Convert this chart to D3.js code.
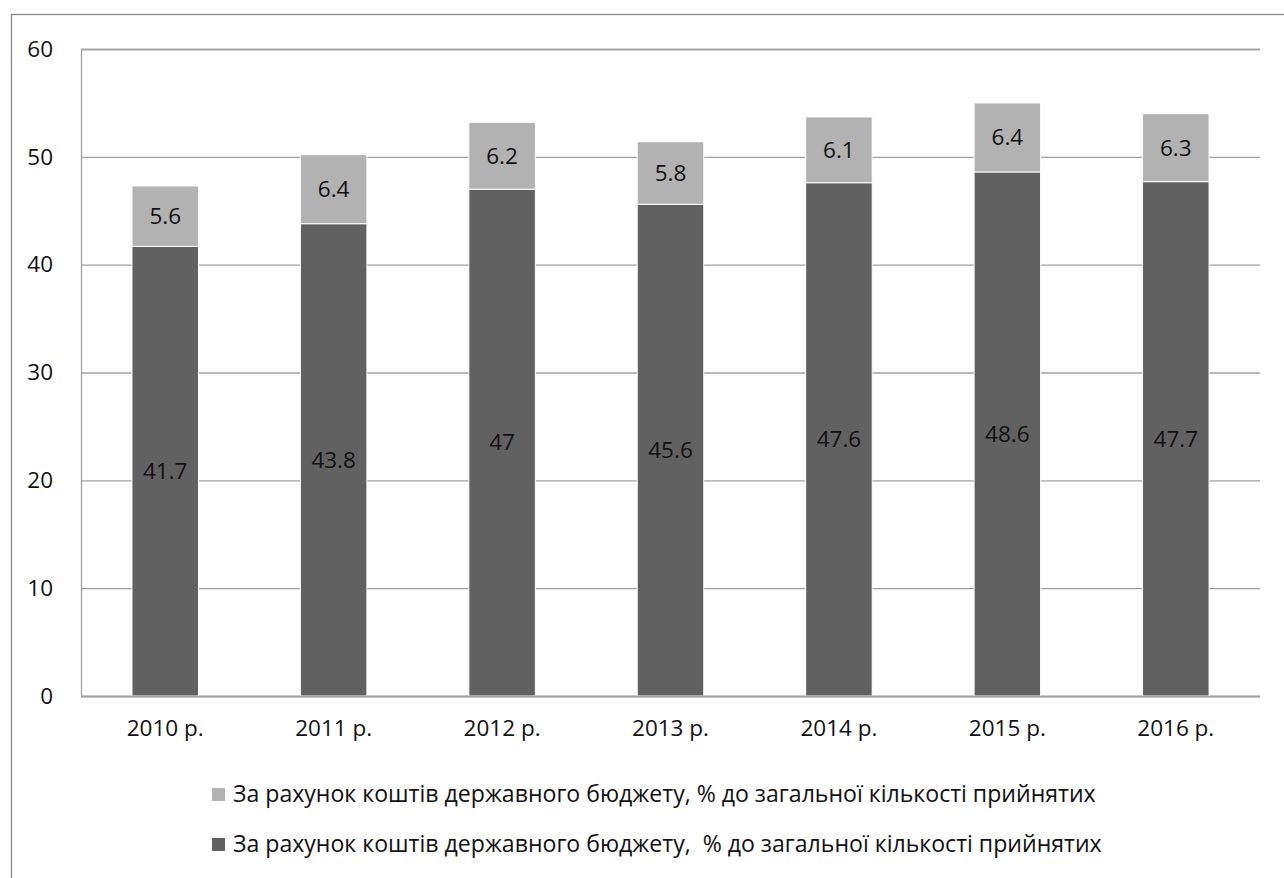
<!DOCTYPE html>
<html><head><meta charset="utf-8">
<script src="https://cdn.jsdelivr.net/npm/d3@7"></script>
<style>html,body{margin:0;padding:0;background:#fff}svg{display:block}</style>
</head><body><svg id="c" width="1284" height="878"></svg>
<script>
const categories = ["2010 р.","2011 р.","2012 р.","2013 р.","2014 р.","2015 р.","2016 р."];
const baseValues = [41.7,43.8,47,45.6,47.6,48.6,47.7];
const topValues = [5.6,6.4,6.2,5.8,6.1,6.4,6.3];
const yTicks = [0,10,20,30,40,50,60];
const legendLabels = ["За рахунок коштів державного бюджету, % до загальної кількості прийнятих",
                      "За рахунок коштів державного бюджету,  % до загальної кількості прийнятих"];
const colors = {top:"#b2b2b2", base:"#616161"};

const svg = d3.select("#c");
const font = "'Open Sans', sans-serif";
const L=81, R=1260, T=49, B=696;

function fitSize(text, target){
  const t = svg.append("text").attr("font-family",font).attr("font-size",100).style("white-space","pre").text(text);
  const w = t.node().getComputedTextLength(); t.remove();
  return 100*target/w;
}
const fs = Math.min(22.5, fitSize("2012 р.", 78));
const legFs = fitSize(legendLabels[0], 863);

svg.append("rect").attr("x",11.5).attr("y",14.5).attr("width",1290).attr("height",900)
  .attr("fill","none").attr("stroke","#8c8c8c").attr("stroke-width",1.3);

const x = d3.scaleBand().domain(categories).range([L,R]).paddingInner(0.605).paddingOuter(0.3025);
const y = d3.scaleLinear().domain([0,60]).range([B,T]);

const gy = svg.append("g").attr("transform",`translate(${L},0)`)
  .call(d3.axisLeft(y).tickValues(yTicks).tickSize(-(R-L)).tickPadding(28).tickFormat(d3.format("d")));
gy.select(".domain").attr("stroke","#a0a0a0").attr("stroke-width",1.3);
gy.selectAll(".tick line").attr("stroke","#a0a0a0").attr("stroke-width",1.3);
gy.selectAll(".tick text").attr("font-family",font).attr("font-size",fs).attr("fill","#111");

const data = categories.map((c,i)=>({c, b:baseValues[i], t:topValues[i]}));
const g = svg.append("g");
g.selectAll("rect.base").data(data).join("rect").attr("class","base")
  .attr("x",d=>x(d.c)).attr("width",x.bandwidth())
  .attr("y",d=>y(d.b)).attr("height",d=>y(0)-y(d.b))
  .attr("fill",colors.base).attr("stroke","#fff").attr("stroke-width",1);
g.selectAll("rect.top").data(data).join("rect").attr("class","top")
  .attr("x",d=>x(d.c)).attr("width",x.bandwidth())
  .attr("y",d=>y(d.b+d.t)).attr("height",d=>y(d.b)-y(d.b+d.t))
  .attr("fill",colors.top).attr("stroke","#fff").attr("stroke-width",1);
svg.append("line").attr("x1",L).attr("x2",R).attr("y1",B+0.5).attr("y2",B+0.5).attr("stroke","#a0a0a0").attr("stroke-width",1.3);

g.selectAll("text.bl").data(data).join("text")
  .attr("x",d=>x(d.c)+x.bandwidth()/2).attr("y",d=>y(d.b/2)).attr("dy","0.35em")
  .attr("text-anchor","middle").attr("font-family",font).attr("font-size",fs).attr("fill","#111")
  .text(d=>d.b);
g.selectAll("text.tl").data(data).join("text")
  .attr("x",d=>x(d.c)+x.bandwidth()/2).attr("y",d=>y(d.b+d.t/2)).attr("dy","0.35em")
  .attr("text-anchor","middle").attr("font-family",font).attr("font-size",fs).attr("fill","#111")
  .text(d=>d.t.toFixed(1));

const gx = svg.append("g").attr("transform",`translate(0,${B})`)
  .call(d3.axisBottom(x).tickSize(0).tickPadding(24));
gx.select(".domain").remove();
gx.selectAll(".tick text").attr("font-family",font).attr("font-size",fs).attr("fill","#111");

const leg = svg.append("g");
const lc = [colors.top, colors.base];
legendLabels.forEach((t,i)=>{
  const yy = 795 + i*50;
  leg.append("rect").attr("x",212).attr("y",yy-7).attr("width",13).attr("height",13).attr("fill",lc[i]);
  leg.append("text").attr("x",233).attr("y",yy).attr("dy","0.32em").attr("font-family",font)
    .attr("font-size",legFs).attr("fill","#111").style("white-space","pre").text(t);
});
</script></body></html>
